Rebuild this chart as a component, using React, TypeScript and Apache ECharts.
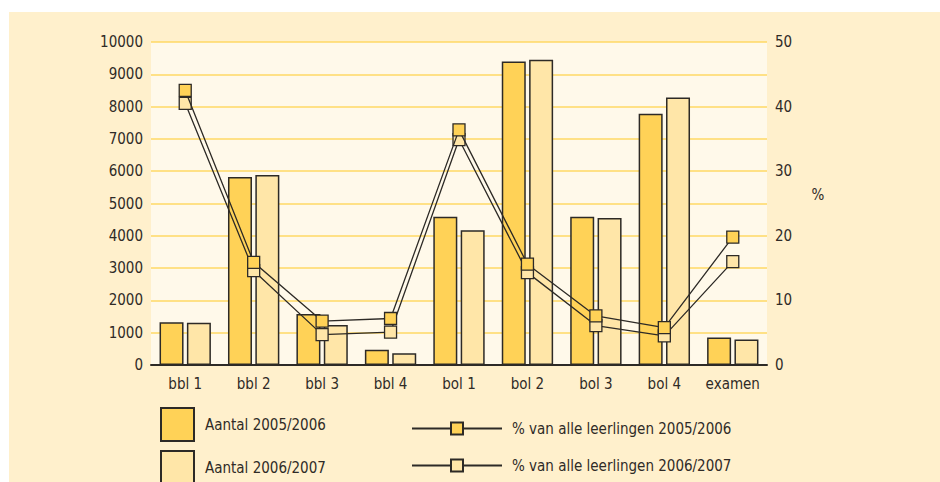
import React, { useEffect, useRef } from "react";
import * as echarts from "echarts";

const categories = ["bbl 1", "bbl 2", "bbl 3", "bbl 4", "bol 1", "bol 2", "bol 3", "bol 4", "examen"];
const aantal2005 = [1320, 5820, 1580, 470, 4590, 9400, 4590, 7780, 850];
const aantal2006 = [1310, 5880, 1240, 360, 4170, 9450, 4550, 8280, 790];
const pct2005 = [42.5, 15.9, 6.8, 7.2, 36.4, 15.6, 7.6, 5.8, 19.8];
const pct2006 = [40.5, 14.6, 4.7, 5.1, 34.9, 14.3, 6.1, 4.5, 16.0];
const leftTicks = { min: 0, max: 10000, interval: 1000 };
const rightTicks = { min: 0, max: 50, interval: 10 };
const names = {
  bar1: "Aantal 2005/2006",
  bar2: "Aantal 2006/2007",
  line1: "% van alle leerlingen 2005/2006",
  line2: "% van alle leerlingen 2006/2007",
};

const FONT = "'DejaVu Sans Condensed', 'Liberation Sans Narrow', sans-serif";
const FS = 15;
const TEXT = "#2f2b27";
const DARK = "#2d2a26";
const C1 = "#ffd257";
const C2 = "#ffe6a8";

export default function App() {
  const ref = useRef<HTMLDivElement>(null);
  useEffect(() => {
    if (!ref.current) return;
    const chart = echarts.init(ref.current, undefined, { renderer: "svg" });
    const barItem = (c: string) => ({ color: c, borderColor: DARK, borderWidth: 1.5 });
    const lineItem = (c: string) => ({ color: c, borderColor: DARK, borderWidth: 1.3 });
    const plain = (v: number) => String(v);
    chart.setOption({
      animation: false,
      backgroundColor: "#ffffff",
      textStyle: { fontFamily: FONT, color: TEXT },
      graphic: [
        {
          type: "rect",
          z: -10,
          shape: { x: 9, y: 12, width: 931, height: 470 },
          style: { fill: "#fff0cc" },
          silent: true,
        },
        {
          type: "text",
          x: 818,
          y: 195,
          style: { text: "%", fontSize: FS, fontFamily: FONT, fill: TEXT, align: "center", verticalAlign: "middle" },
        },
      ],
      grid: {
        left: 151,
        right: 173,
        top: 42,
        bottom: 117,
        show: true,
        backgroundColor: "#fff9ea",
        borderWidth: 0,
      },
      legend: [
        {
          data: [names.bar1, names.bar2],
          orient: "vertical",
          left: 160,
          top: 407,
          height: 200,
          padding: 0,
          itemWidth: 33,
          itemHeight: 33,
          itemGap: 8,
          icon: "rect",
          textStyle: { fontSize: FS, fontFamily: FONT, color: TEXT, padding: [0, 0, 0, 6] },
        },
        {
          data: [names.line1, names.line2],
          orient: "vertical",
          left: 411,
          top: 421,
          height: 200,
          padding: 0,
          itemWidth: 90,
          itemHeight: 15,
          itemGap: 22,
          textStyle: { fontSize: FS, fontFamily: FONT, color: TEXT, padding: [0, 0, 0, 5] },
        },
      ],
      xAxis: {
        type: "category",
        data: categories,
        axisLine: { lineStyle: { color: DARK, width: 2 } },
        axisTick: { show: false },
        axisLabel: { fontSize: FS, fontFamily: FONT, color: TEXT, margin: 11, interval: 0 },
      },
      yAxis: [
        {
          type: "value",
          ...leftTicks,
          axisLine: { show: false },
          axisTick: { show: false },
          axisLabel: { fontSize: FS, fontFamily: FONT, color: TEXT, margin: 8, formatter: plain },
          splitLine: { lineStyle: { color: "#ffd865", width: 1.5 } },
        },
        {
          type: "value",
          ...rightTicks,
          position: "right",
          axisLine: { show: false },
          axisTick: { show: false },
          axisLabel: { fontSize: FS, fontFamily: FONT, color: TEXT, margin: 8, formatter: plain },
          splitLine: { show: false },
        },
      ],
      series: [
        {
          name: names.bar1,
          type: "bar",
          data: aantal2005,
          barWidth: 24,
          barGap: "14%",
          itemStyle: barItem(C1),
          z: 2,
        },
        {
          name: names.bar2,
          type: "bar",
          data: aantal2006,
          barWidth: 24,
          barGap: "14%",
          itemStyle: barItem(C2),
          z: 2,
        },
        {
          name: names.line1,
          type: "line",
          yAxisIndex: 1,
          data: pct2005,
          symbol: "rect",
          symbolSize: 12,
          showAllSymbol: true,
          lineStyle: { color: DARK, width: 1.3 },
          itemStyle: lineItem(C1),
          z: 4,
        },
        {
          name: names.line2,
          type: "line",
          yAxisIndex: 1,
          data: pct2006,
          symbol: "rect",
          symbolSize: 12,
          showAllSymbol: true,
          lineStyle: { color: DARK, width: 1.3 },
          itemStyle: lineItem(C2),
          z: 3,
        },
      ],
    });
    return () => chart.dispose();
  }, []);
  return (
    <div
      ref={ref}
      style={{ position: "fixed", left: 0, top: 0, width: 940, height: 482 }}
    />
  );
}
